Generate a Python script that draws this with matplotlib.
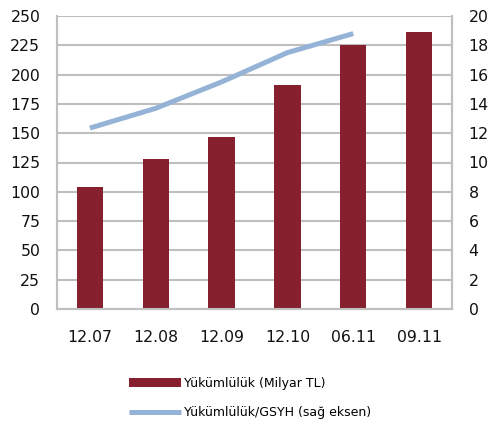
import matplotlib.pyplot as plt
import numpy as np

# data
donemler = ['12.07', '12.08', '12.09', '12.10', '06.11', '09.11']
yukumluluk = [104, 128, 147, 191, 225, 236]          # Milyar TL (sol eksen)
yuk_gsyh = [12.35, 13.7, 15.5, 17.5, 18.8]           # % GSYH (sag eksen), 09.11 yok

bar_renk = '#86202E'
cizgi_renk = '#95B3D7'
grid_renk = '#BFBFBF'

plt.rcParams['font.family'] = ['DejaVu Sans']

fig = plt.figure(figsize=(4.89, 4.28), dpi=100)
ax = fig.add_axes([57/489, 119/428, 395/489, 293/428])
ax2 = ax.twinx()

x = np.arange(len(donemler))
ax.bar(x, yukumluluk, width=0.4, color=bar_renk, zorder=3,
       label='Yükümlülük (Milyar TL)')
ax2.plot(x[:len(yuk_gsyh)], yuk_gsyh, color=cizgi_renk, lw=3.6,
         solid_capstyle='butt', label='Yükümlülük/GSYH (sağ eksen)')

ax.set_xlim(-0.5, 5.5)
ax.set_ylim(0, 250)
ax.set_yticks(np.arange(0, 251, 25))
ax2.set_ylim(0, 20)
ax2.set_yticks(np.arange(0, 21, 2))
ax.set_xticks(x)
ax.set_xticklabels(donemler)

ax.grid(axis='y', color=grid_renk, lw=1.5, zorder=0)
ax.set_axisbelow(True)
for a in (ax, ax2):
    for s in a.spines.values():
        s.set_color(grid_renk)
        s.set_linewidth(1.5)
    a.spines['top'].set_visible(False)
ax.tick_params(axis='both', length=0, labelsize=11.3, colors='#111111')
ax.tick_params(axis='y', pad=12)
ax.tick_params(axis='x', pad=15)
ax2.tick_params(axis='y', length=0, labelsize=11.3, colors='#111111', pad=12)

h1, l1 = ax.get_legend_handles_labels()
h2, l2 = ax2.get_legend_handles_labels()
fig.legend(h1 + h2, l1 + l2, loc='center left',
           bbox_to_anchor=(118/489, 1 - 398/428), frameon=False,
           fontsize=9, handlelength=4.1, handletextpad=0.25,
           labelspacing=1.35)

fig.savefig('out.png', dpi=100)
